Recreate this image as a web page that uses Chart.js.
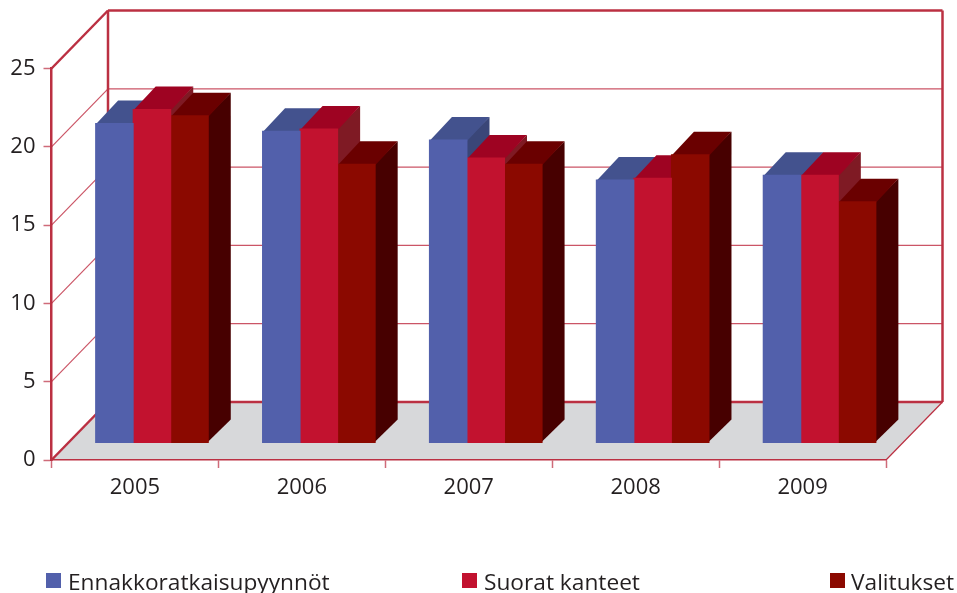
<!DOCTYPE html>
<html>
<head>
<meta charset="utf-8">
<style>html,body{margin:0;padding:0;background:#fff}canvas{display:block}</style>
<script src="https://cdn.jsdelivr.net/npm/chart.js@4"></script>
</head>
<body>
<canvas id="c" width="957" height="593"></canvas>
<script>
const categories = ["2005", "2006", "2007", "2008", "2009"];
const seriesNames = ["Ennakkoratkaisupyynnöt", "Suorat kanteet", "Valitukset"];
const ennakko = [20.4, 19.9, 19.35, 16.8, 17.1];
const suorat = [21.3, 20.05, 18.2, 16.9, 17.1];
const valitukset = [20.9, 17.8, 17.8, 18.4, 15.4];

const frontColors = ["#5260ab", "#c2122f", "#8b0900"];
const topColors = ["#43528e", "#9e0322", "#6a0000"];
const sideColors = ["#3a4678", "#7f1a24", "#470000"];
const legendSquareX = [46, 462, 830];
const legendTextX = [68, 484, 851];

const wallColor = "#bb3042";
const gridColor = "#cb5566";
const floorColor = "#d7d8da";
const textColor = "#231f20";
const fontFamily = "'Open Sans', sans-serif";
const wallDx = 56.5, wallDy = -58;
const barShiftX = 17, barShiftY = -17;
const barDepthX = 22.5, barDepthY = -23;

function line(ctx, x1, y1, x2, y2, w, color) {
  ctx.beginPath();
  ctx.moveTo(x1, y1);
  ctx.lineTo(x2, y2);
  ctx.lineWidth = w;
  ctx.strokeStyle = color || wallColor;
  ctx.stroke();
}

const box3d = {
  id: "box3d",
  beforeDraw(chart) {
    const ctx = chart.ctx, a = chart.chartArea, y = chart.scales.y;
    ctx.save();
    ctx.fillStyle = floorColor;
    ctx.beginPath();
    ctx.moveTo(a.left, a.bottom);
    ctx.lineTo(a.right, a.bottom);
    ctx.lineTo(a.right + wallDx, a.bottom + wallDy);
    ctx.lineTo(a.left + wallDx, a.bottom + wallDy);
    ctx.closePath();
    ctx.fill();
    y.ticks.forEach(t => {
      const p = y.getPixelForValue(t.value);
      if (t.value > 0 && t.value < y.max) {
        line(ctx, a.left, p, a.left + wallDx, p + wallDy, 1.2, gridColor);
        line(ctx, a.left + wallDx, p + wallDy, a.right + wallDx, p + wallDy, 1.2, gridColor);
      }
    });
    const bl = a.left + wallDx, br = a.right + wallDx, bt = a.top + wallDy, bb = a.bottom + wallDy;
    line(ctx, bl, bb, br, bb, 2.5);
    line(ctx, bl, bt, br, bt, 2.5);
    line(ctx, bl, bt, bl, bb, 2.5);
    line(ctx, br, bt, br, bb, 2.5);
    line(ctx, a.left, a.top, bl, bt, 2.5);
    line(ctx, a.left, a.bottom, bl, bb, 2.5);
    line(ctx, a.right, a.bottom, br, bb, 1.2);
    ctx.restore();
  },
  beforeDatasetsDraw(chart) {
    const ctx = chart.ctx;
    ctx.save();
    ctx.translate(barShiftX, barShiftY);
    const metas = chart.data.datasets.map((d, i) => chart.getDatasetMeta(i));
    categories.forEach((c, ci) => {
      metas.forEach((m, di) => {
        const b = m.data[ci], l = b.x - b.width / 2, r = b.x + b.width / 2;
        ctx.fillStyle = sideColors[di];
        ctx.beginPath();
        ctx.moveTo(r - 1, b.y);
        ctx.lineTo(r + barDepthX, b.y + barDepthY);
        ctx.lineTo(r + barDepthX, b.base + barDepthY);
        ctx.lineTo(r - 1, b.base);
        ctx.closePath();
        ctx.fill();
        ctx.fillStyle = topColors[di];
        ctx.beginPath();
        ctx.moveTo(l, b.y + 1);
        ctx.lineTo(l + barDepthX, b.y + barDepthY);
        ctx.lineTo(r + barDepthX, b.y + barDepthY);
        ctx.lineTo(r, b.y + 1);
        ctx.closePath();
        ctx.fill();
      });
    });
  },
  afterDatasetsDraw(chart) {
    chart.ctx.restore();
  },
  afterDraw(chart) {
    const ctx = chart.ctx;
    ctx.save();
    ctx.font = "22.7px " + fontFamily;
    ctx.textBaseline = "alphabetic";
    ctx.textAlign = "left";
    chart.data.datasets.forEach((d, i) => {
      ctx.fillStyle = frontColors[i];
      ctx.fillRect(legendSquareX[i], 573, 15, 15);
      ctx.fillStyle = textColor;
      ctx.fillText(d.label, legendTextX[i], 590);
    });
    ctx.restore();
  }
};

const seriesValues = [ennakko, suorat, valitukset];
new Chart(document.getElementById("c"), {
  type: "bar",
  data: {
    labels: categories,
    datasets: seriesNames.map((n, i) => ({
      label: n,
      data: seriesValues[i],
      backgroundColor: frontColors[i],
      borderWidth: 0,
      inflateAmount: 0.5,
      clip: false
    }))
  },
  options: {
    responsive: false,
    animation: false,
    devicePixelRatio: 1,
    categoryPercentage: 0.675,
    barPercentage: 1,
    layout: { padding: { left: 0, right: 71, top: 68.5, bottom: 0 } },
    plugins: { legend: { display: false }, tooltip: { enabled: false } },
    scales: {
      x: {
        afterFit(s) { s.height = 133; },
        grid: { drawOnChartArea: false, color: "#cf6b79", tickLength: 8, tickWidth: 1.5 },
        border: { color: wallColor, width: 1.5 },
        ticks: { color: textColor, font: { family: fontFamily, size: 22 }, padding: 7, maxRotation: 0 }
      },
      y: {
        min: 0,
        max: 25,
        afterFit(s) { s.width = 51.5; },
        grid: { drawOnChartArea: false, color: "#cf6b79", tickLength: 8, tickWidth: 1.5 },
        border: { color: wallColor, width: 2.5 },
        ticks: { stepSize: 5, color: textColor, font: { family: fontFamily, size: 22 }, padding: 8 }
      }
    }
  },
  plugins: [box3d]
});
</script>
</body>
</html>
